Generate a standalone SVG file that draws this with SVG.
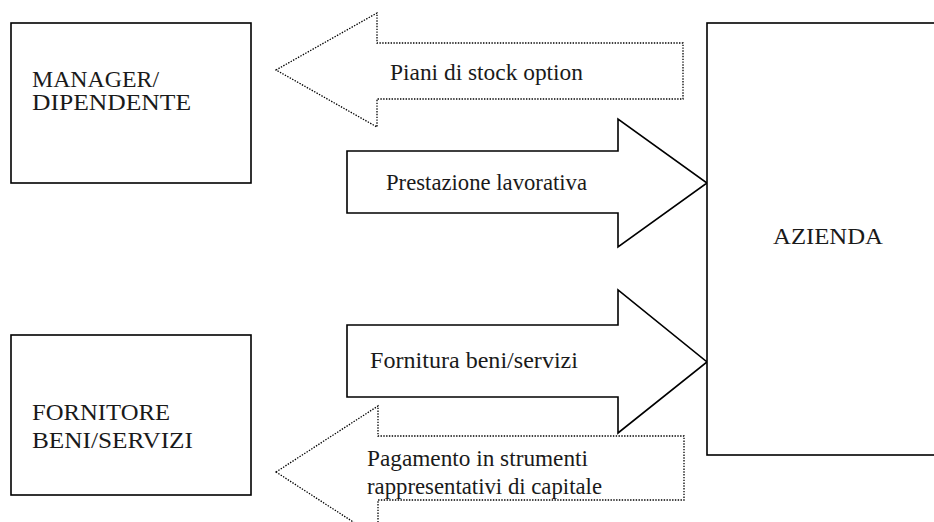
<svg xmlns="http://www.w3.org/2000/svg" width="934" height="522" viewBox="0 0 934 522">
<style>
.box{fill:#fff;stroke:#000;stroke-width:1.6}
.solid{fill:#fff;stroke:#000;stroke-width:1.6;stroke-linejoin:miter}
.dot{fill:#fff;stroke:#000;stroke-width:1.3;stroke-dasharray:1.4 1.4}
text{font-family:"Liberation Serif","Times New Roman",serif;font-size:23px;fill:#1a1a1a}
</style>
<rect width="934" height="522" fill="#fff"/>
<g id="connectors">
<polygon class="dot" points="276,70 377,13 377,43 683,43 683,99 377,99 377,127"/>
<polygon class="solid" points="347,151 618,151 618,119 707,183 618,247 618,213 347,213"/>
<polygon class="solid" points="347,325 618,325 618,290 707,362 618,433 618,397 347,397"/>
<polygon class="dot" points="276,472 378,406 378,436 684,436 684,500 378,500 378,538"/>
<text x="390" y="80" textLength="193" lengthAdjust="spacingAndGlyphs">Piani di stock option</text>
<text x="386" y="190" textLength="201" lengthAdjust="spacingAndGlyphs">Prestazione lavorativa</text>
<text x="370" y="368" textLength="208" lengthAdjust="spacingAndGlyphs">Fornitura beni/servizi</text>
<text x="367" y="466" textLength="221" lengthAdjust="spacingAndGlyphs">Pagamento in strumenti</text>
<text x="367" y="494" textLength="235" lengthAdjust="spacingAndGlyphs">rappresentativi di capitale</text>
</g>
<g id="manager">
<rect class="box" x="11" y="23" width="240" height="160"/>
<text x="32" y="87" textLength="127" lengthAdjust="spacingAndGlyphs">MANAGER/</text>
<text x="32" y="110" textLength="159" lengthAdjust="spacingAndGlyphs">DIPENDENTE</text>
</g>
<g id="fornitore">
<rect class="box" x="11" y="335" width="240" height="160"/>
<text x="32" y="420" textLength="138" lengthAdjust="spacingAndGlyphs">FORNITORE</text>
<text x="32" y="448" textLength="161" lengthAdjust="spacingAndGlyphs">BENI/SERVIZI</text>
</g>
<g id="azienda">
<rect class="box" x="707" y="23" width="260" height="432"/>
<text x="773" y="244" textLength="110" lengthAdjust="spacingAndGlyphs">AZIENDA</text>
</g>
</svg>
